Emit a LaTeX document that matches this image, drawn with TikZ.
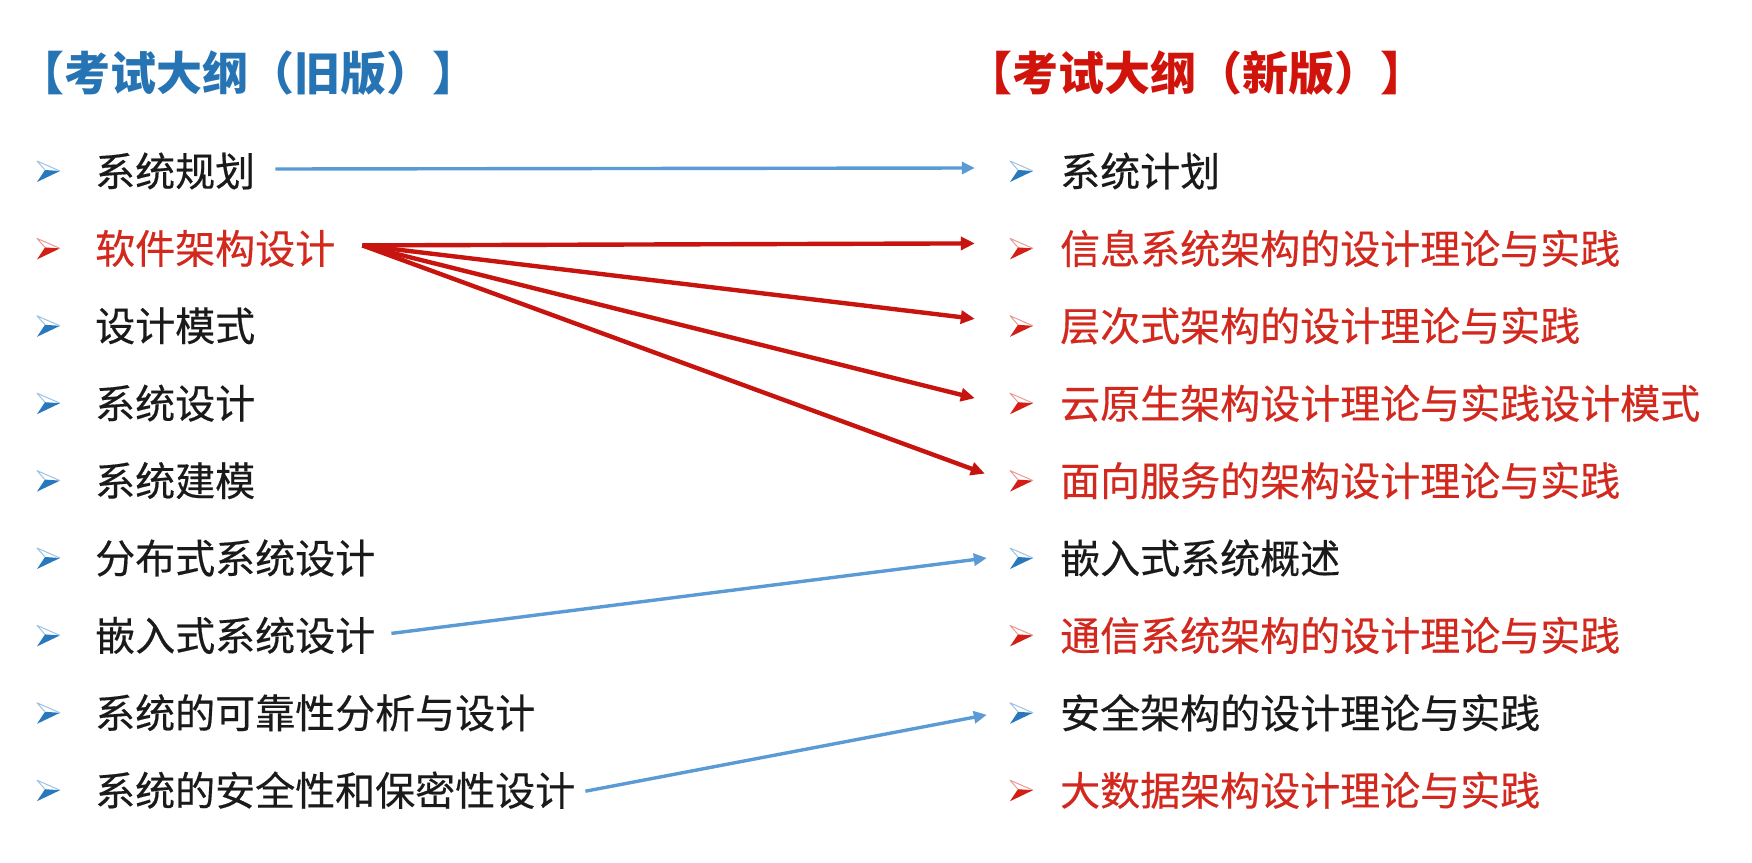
\documentclass[tikz,border=0pt]{standalone}
\usepackage{fontspec}
\newfontfamily\cjk[FakeBold=0.4]{Noto Sans CJK SC}
\newfontfamily\cjkt{Noto Sans CJK SC}
\usetikzlibrary{arrows.meta,calc}
\definecolor{titleblue}{RGB}{38,116,180}
\definecolor{titlered}{RGB}{208,20,12}
\definecolor{itemred}{RGB}{210,40,30}
\definecolor{itemblack}{RGB}{26,26,26}
\definecolor{arrred}{RGB}{200,20,15}
\definecolor{arrblue}{RGB}{91,155,213}
\definecolor{bulblue}{RGB}{40,120,190}
\definecolor{bulred}{RGB}{210,30,20}
\tikzset{
  item/.style={anchor=west,inner sep=0pt,font=\cjk\fontsize{40}{48}\selectfont,text=itemblack},
  itemr/.style={item,text=itemred},
  ttl/.style={inner sep=0pt,font=\cjkt\fontsize{46}{54}\selectfont\bfseries},
  bul/.style={minimum width=24pt,minimum height=22pt,inner sep=0pt,
    path picture={
      \path (path picture bounding box.center) coordinate (bc);
      \fill[#1] ($(bc)+(12,0)$) -- ($(bc)+(-3,-1)$) -- ($(bc)+(-11,11)$) -- cycle;
      \draw[#1!45,line width=1pt,line join=round] ($(bc)+(12,0)$) -- ($(bc)+(-11,-10)$) -- ($(bc)+(-3,-1)$);
    }},
  redarrow/.style={draw=arrred,line width=4.4pt,-{Triangle[length=14pt,width=13pt]}},
  bluearrow/.style={draw=arrblue,line width=3.4pt,-{Triangle[length=13pt,width=12pt]}},
}
\begin{document}
\begin{tikzpicture}[x=1pt,y=-1pt]
\path[use as bounding box,fill=white] (0,0) rectangle (1752,862);
% titles
\node[ttl,text=titleblue] (TL) at (248,73) {【考试大纲（旧版）】};
\node[ttl,text=titlered] (TR) at (1196,73) {【考试大纲（新版）】};
% left column
\node[bul=bulblue] (lb1) at (48,171) {};
\node[bul=bulred]  (lb2) at (48,248.4) {};
\node[bul=bulblue] (lb3) at (48,325.8) {};
\node[bul=bulblue] (lb4) at (48,403.2) {};
\node[bul=bulblue] (lb5) at (48,480.6) {};
\node[bul=bulblue] (lb6) at (48,558) {};
\node[bul=bulblue] (lb7) at (48,635.4) {};
\node[bul=bulblue] (lb8) at (48,712.8) {};
\node[bul=bulblue] (lb9) at (48,790.2) {};
\node[item]  (L1) at (95,171) {系统规划};
\node[itemr] (L2) at (95,248.4) {软件架构设计};
\node[item]  (L3) at (95,325.8) {设计模式};
\node[item]  (L4) at (95,403.2) {系统设计};
\node[item]  (L5) at (95,480.6) {系统建模};
\node[item]  (L6) at (95,558) {分布式系统设计};
\node[item]  (L7) at (95,635.4) {嵌入式系统设计};
\node[item]  (L8) at (95,712.8) {系统的可靠性分析与设计};
\node[item]  (L9) at (95,790.2) {系统的安全性和保密性设计};
% right column
\node[bul=bulblue] (rb1) at (1021,171) {};
\node[bul=bulred]  (rb2) at (1021,248.4) {};
\node[bul=bulred]  (rb3) at (1021,325.8) {};
\node[bul=bulred]  (rb4) at (1021,403.2) {};
\node[bul=bulred]  (rb5) at (1021,480.6) {};
\node[bul=bulblue] (rb6) at (1021,558) {};
\node[bul=bulred]  (rb7) at (1021,635.4) {};
\node[bul=bulblue] (rb8) at (1021,712.8) {};
\node[bul=bulred]  (rb9) at (1021,790.2) {};
\node[item]  (R1) at (1060,171) {系统计划};
\node[itemr] (R2) at (1060,248.4) {信息系统架构的设计理论与实践};
\node[itemr] (R3) at (1060,325.8) {层次式架构的设计理论与实践};
\node[itemr] (R4) at (1060,403.2) {云原生架构设计理论与实践设计模式};
\node[itemr] (R5) at (1060,480.6) {面向服务的架构设计理论与实践};
\node[item]  (R6) at (1060,558) {嵌入式系统概述};
\node[itemr] (R7) at (1060,635.4) {通信系统架构的设计理论与实践};
\node[item]  (R8) at (1060,712.8) {安全架构的设计理论与实践};
\node[itemr] (R9) at (1060,790.2) {大数据架构设计理论与实践};
% connectors
\draw[bluearrow] ([xshift=20pt,yshift=2pt]L1.east) -- ([xshift=-34pt,yshift=3pt]rb1.west);
\coordinate (fan) at ([xshift=27pt,yshift=3pt]L2.east);
\draw[redarrow] (fan) -- ([xshift=-34pt,yshift=5pt]rb2.west);
\draw[redarrow] (fan) -- ([xshift=-34pt,yshift=7pt]rb3.west);
\draw[redarrow] (fan) -- ([xshift=-34pt,yshift=5pt]rb4.west);
\draw[redarrow] (fan) -- ([xshift=-24pt,yshift=7pt]rb5.west);
\draw[bluearrow] ([xshift=16pt,yshift=2pt]L7.east) -- ([xshift=-22pt]rb6.west);
\draw[bluearrow] ([xshift=10pt,yshift=-1pt]L9.east) -- ([xshift=-22pt,yshift=-2pt]rb8.west);
\end{tikzpicture}
\end{document}
